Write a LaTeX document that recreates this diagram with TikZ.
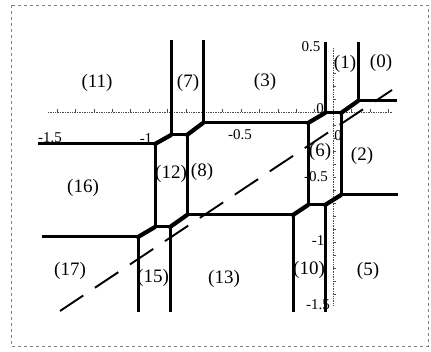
\documentclass[tikz,border=0pt]{standalone}
\usepackage{fontspec}
\setmainfont{Liberation Serif}
\usetikzlibrary{calc}

\begin{document}
\begin{tikzpicture}[
  x=1pt, y=-1pt,
  edge/.style={line width=3pt},
  kink/.style={line width=4.2pt, line cap=round},
  axis/.style={densely dotted, gray!60!black, line width=0.7pt},
  tickmark/.style={gray!60!black, line width=0.5pt},
  region/.style={font=\fontsize{19}{19}\selectfont, inner sep=0pt},
  ticklabel/.style={font=\fontsize{15}{15}\selectfont, inner sep=0pt},
  cut/.style={dash pattern=on 28pt off 14pt, line width=1.9pt},
  frame/.style={dashed, gray, line width=0.5pt}
]
  \useasboundingbox (0,0) rectangle (431,352);
  \draw[frame] (11,5) rectangle (428,346);

  % Axes
  \coordinate (o) at (333,112);
  \coordinate (xl) at (48,112);
  \coordinate (xr) at (392,112);
  \coordinate (yt) at (333,48);
  \coordinate (yb) at (333,305);
  \draw[axis] (xl) -- (xr);
  \draw[axis] (yt) -- (yb);
  \foreach \k in {-15,...,3}
    \draw[tickmark] ($(o)+(\k*18.4,0)$) -- ++(0,-3);
  \foreach \k in {-14,...,4}
    \draw[tickmark] ($(o)+(0,-\k*13)$) -- ++(3,0);

  \node[ticklabel] (xm15) at (50,138) {-1.5};
  \node[ticklabel] (xm1) at (146,139) {-1};
  \node[ticklabel] (xm05) at (240,135) {-0.5};
  \node[ticklabel] (x0) at (338,136) {0};
  \node[ticklabel] (y05) at (311,47) {0.5};
  \node[ticklabel] (y0) at (320,109) {0};
  \node[ticklabel] (ym05) at (316,177) {-0.5};
  \node[ticklabel] (ym1) at (318,241) {-1};
  \node[ticklabel] (ym15) at (318,305) {-1.5};

  % Vertices
  \coordinate (a1) at (155,144);
  \coordinate (a2) at (171,135);
  \coordinate (a3) at (187,135);
  \coordinate (a4) at (203,123);
  \coordinate (b1) at (308,123);
  \coordinate (b2) at (325,113);
  \coordinate (b3) at (341,113);
  \coordinate (b4) at (358,101);
  \coordinate (c1) at (293,215);
  \coordinate (c2) at (308,205);
  \coordinate (c3) at (325,205);
  \coordinate (c4) at (341,195);
  \coordinate (d1) at (138,237);
  \coordinate (d2) at (155,227);
  \coordinate (d3) at (170,227);
  \coordinate (d4) at (187,215);

  % Ray ends
  \coordinate (ea) at (38,144);
  \coordinate (ea2) at (171,40);
  \coordinate (ea4) at (203,40);
  \coordinate (eb2) at (325,42);
  \coordinate (eb4) at (358,42);
  \coordinate (eb4r) at (397,101);
  \coordinate (ec4) at (398,195);
  \coordinate (ec1) at (293,312);
  \coordinate (ec3) at (325,312);
  \coordinate (ed1) at (42,237);
  \coordinate (ed1b) at (138,312);
  \coordinate (ed3) at (170,312);

  % Edges
  \draw[edge] (ea) -- (a1);
  \draw[edge] (a2) -- (a3);
  \draw[edge] (a2) -- (ea2);
  \draw[edge] (a4) -- (ea4);
  \draw[edge] (a4) -- (b1);
  \draw[edge] (b2) -- (b3);
  \draw[edge] (b2) -- (eb2);
  \draw[edge] (b4) -- (eb4);
  \draw[edge] (b4) -- (eb4r);
  \draw[edge] (b1) -- (c2);
  \draw[edge] (b3) -- (c4);
  \draw[edge] (c2) -- (c3);
  \draw[edge] (c4) -- (ec4);
  \draw[edge] (c1) -- (ec1);
  \draw[edge] (c3) -- (ec3);
  \draw[edge] (c1) -- (d4);
  \draw[edge] (a1) -- (d2);
  \draw[edge] (a3) -- (d4);
  \draw[edge] (d2) -- (d3);
  \draw[edge] (d1) -- (ed1);
  \draw[edge] (d1) -- (ed1b);
  \draw[edge] (d3) -- (ed3);
  \draw[kink] (a1) -- (a2);
  \draw[kink] (a3) -- (a4);
  \draw[kink] (b1) -- (b2);
  \draw[kink] (b3) -- (b4);
  \draw[kink] (c1) -- (c2);
  \draw[kink] (c3) -- (c4);
  \draw[kink] (d1) -- (d2);
  \draw[kink] (d3) -- (d4);

  % Dashed line
  \coordinate (l0) at (60,311);
  \coordinate (l1) at (392,90);
  \draw[cut] (l0) -- (l1);

  % Regions
  \node[region] (r0) at (381,63) {(0)};
  \node[region] (r1) at (345,64) {(1)};
  \node[region] (r2) at (362,156) {(2)};
  \node[region] (r3) at (265,82) {(3)};
  \node[region] (r5) at (368,271) {(5)};
  \node[region] (r6) at (320,152) {(6)};
  \node[region] (r7) at (188,83) {(7)};
  \node[region] (r8) at (202,172) {(8)};
  \node[region] (r10) at (309,270) {(10)};
  \node[region] (r11) at (97,83) {(11)};
  \node[region] (r12) at (171,174) {(12)};
  \node[region] (r13) at (224,279) {(13)};
  \node[region] (r15) at (153,278) {(15)};
  \node[region] (r16) at (83,188) {(16)};
  \node[region] (r17) at (70,271) {(17)};
\end{tikzpicture}
\end{document}
